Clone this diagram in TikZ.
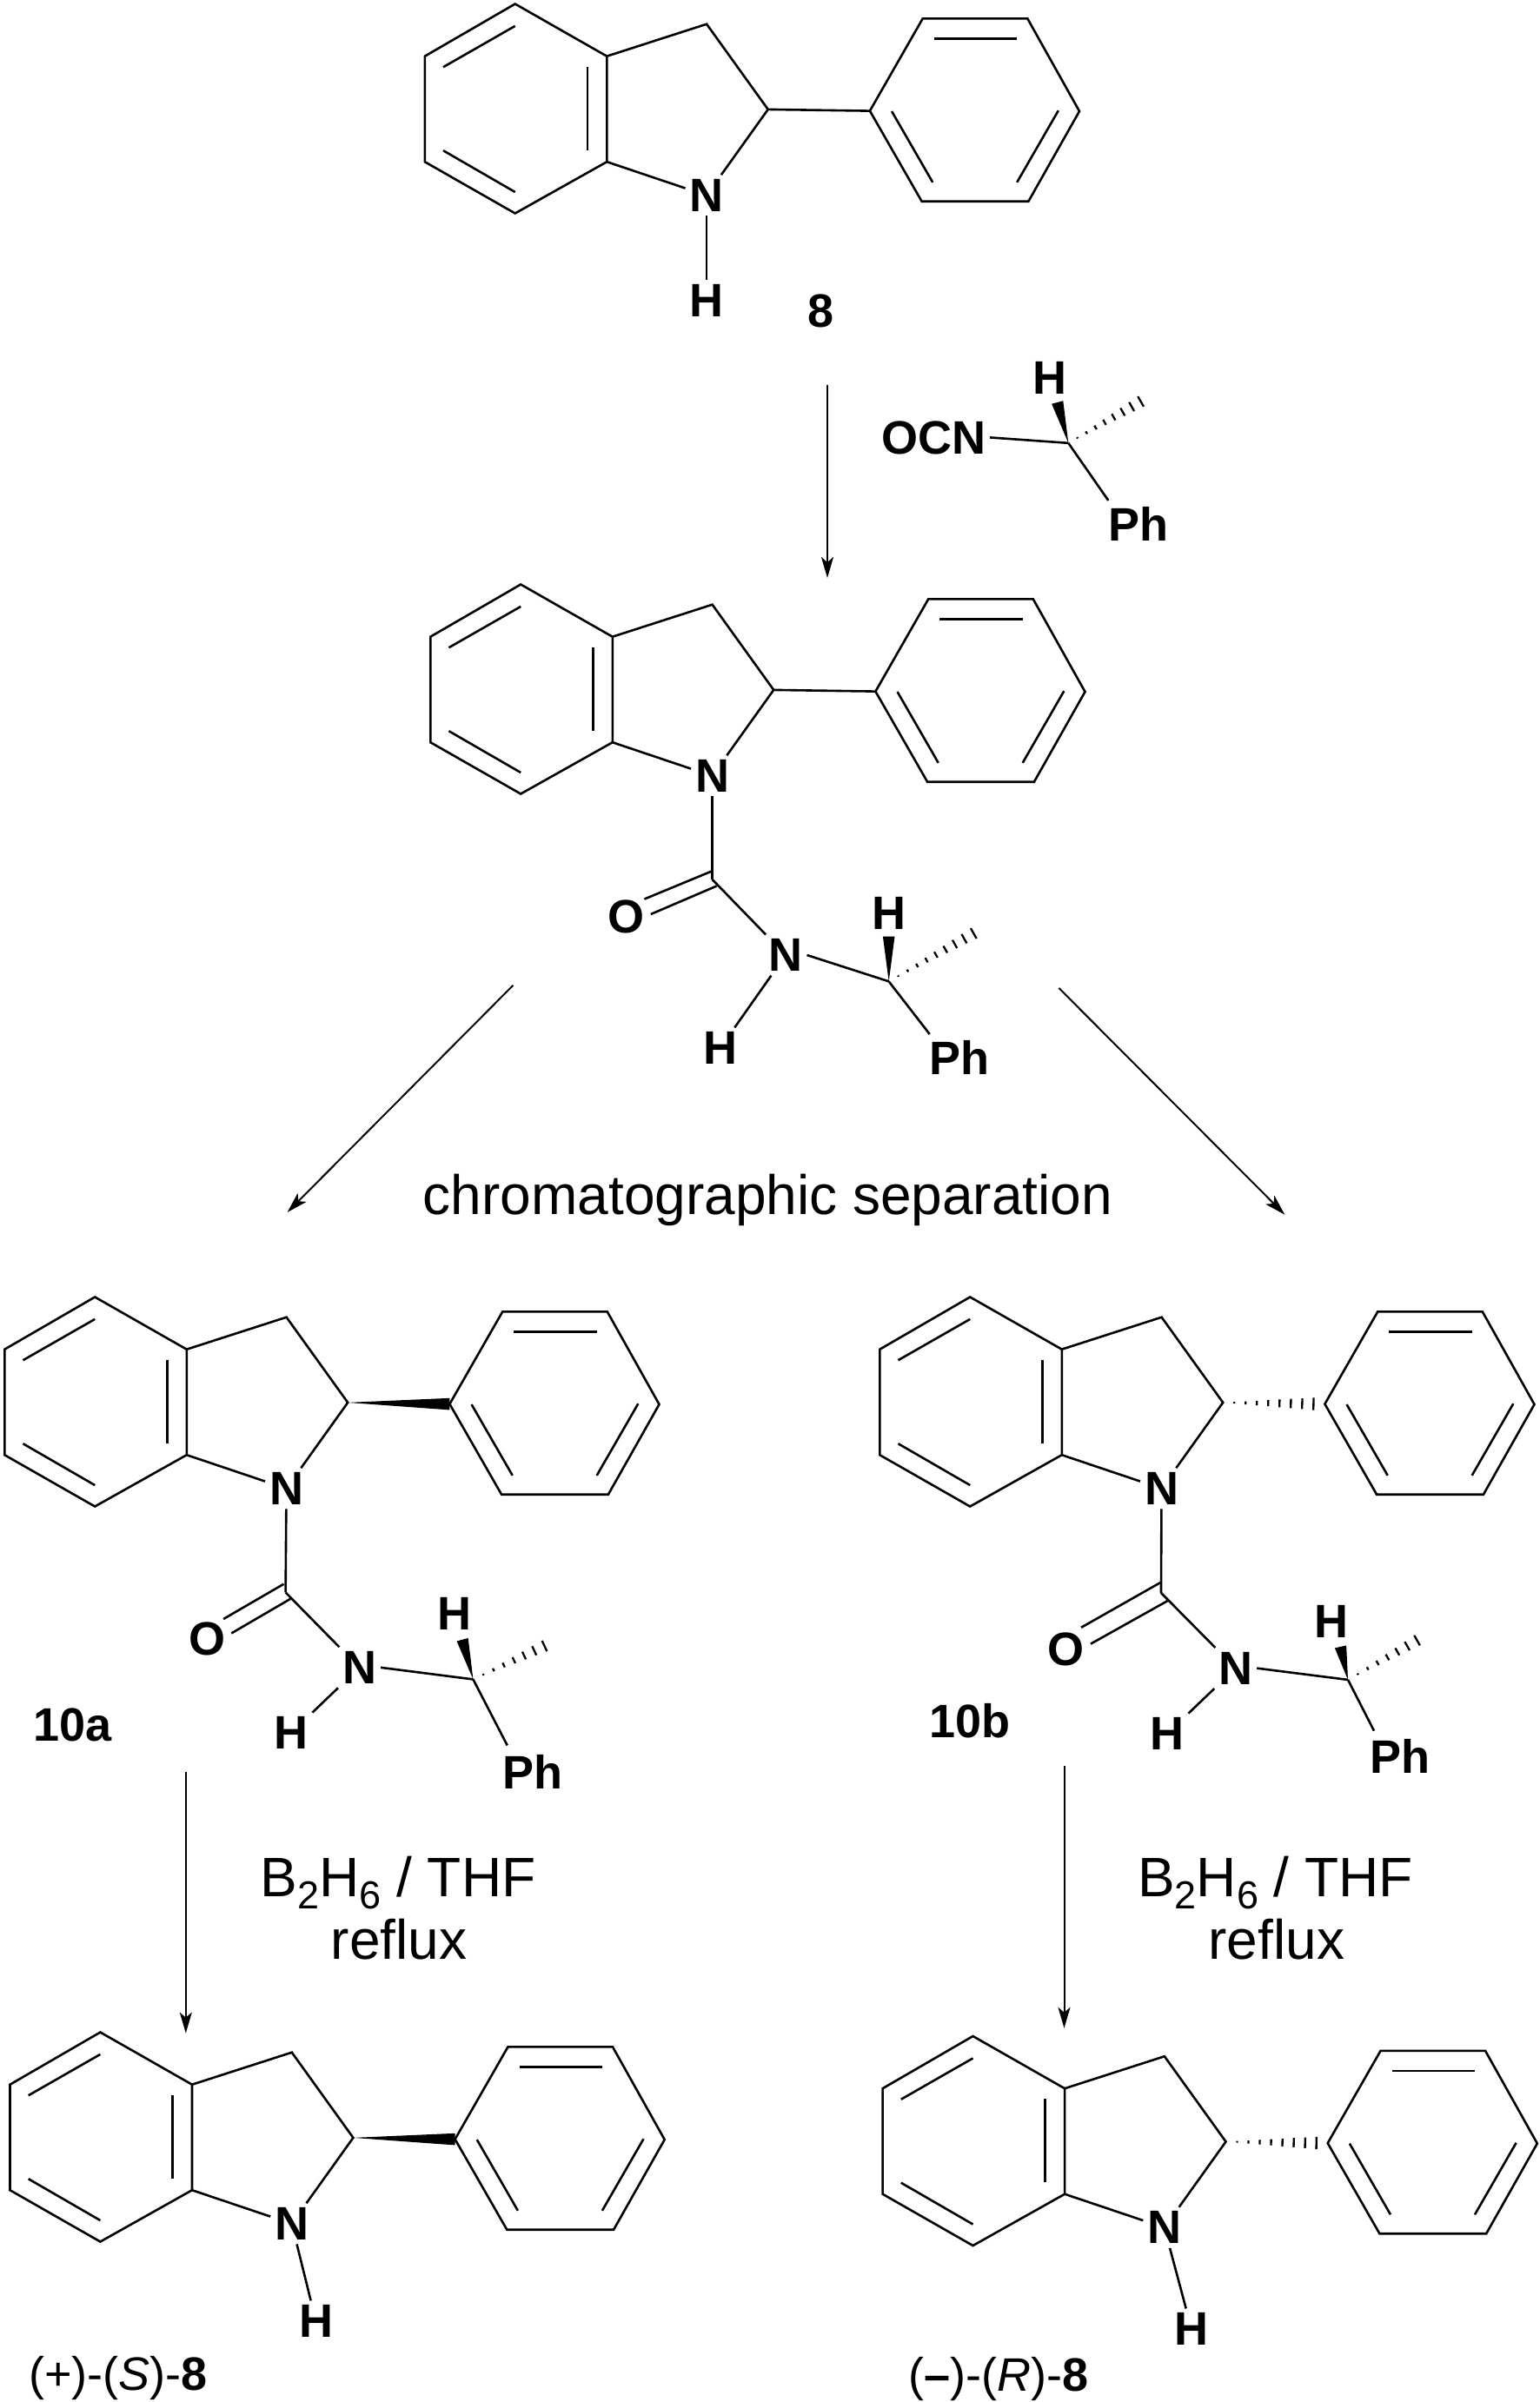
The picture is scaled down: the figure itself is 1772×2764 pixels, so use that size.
\documentclass[tikz,border=0pt]{standalone}
\usepackage{fontspec}
\setmainfont{Liberation Sans}
\usetikzlibrary{calc,arrows.meta}
\tikzset{
  bond/.style={line width=1.3pt,line join=miter,line cap=butt},
  hashline/.style={line width=1.15pt},
  rxn/.style={line width=1pt,-{Stealth[length=12pt,width=7pt,inset=3pt]}},
  lab/.style={font=\bfseries\fontsize{27}{27}\selectfont,inner sep=2.5pt,outer sep=0pt},
  txt/.style={font=\fontsize{32}{32}\selectfont,inner sep=0pt,anchor=base},
  cmpd/.style={font=\fontsize{27}{27}\selectfont,inner sep=0pt,anchor=base west},
}
\newcommand\hashbond[4]{% from, to, strips, half-width (pt) at the far end
  \foreach \ii in {1,...,#3}{
    \pgfmathsetmacro\hh{\ii/(#3+1)}
    \pgfmathsetmacro\ww{\hh*#4}
    \draw[hashline] ($(#1)!\hh!(#2)!\ww pt!90:(#2)$) -- ($(#1)!\hh!(#2)!\ww pt!-90:(#2)$);
  }}
\newcommand\wedgebond[3]{% tip, wide end, half-width
  \fill (#1) -- ($(#2)!#3!90:(#1)$) -- ($(#2)!#3!-90:(#1)$) -- cycle;}
\newcommand\plainbond[2]{\draw[bond] (#1) -- (#2);}
\newcommand\upbond[2]{\wedgebond{#1}{#2}{3.4pt}}
\newcommand\downbond[2]{\hashbond{#1}{#2}{8}{4}}
% indoline + phenyl skeleton: prefix, dx, dy, bond command for C2-Ph
\newcommand\indoline[4]{%
  \begin{scope}[shift={(#2,#3)}]
    \coordinate (#1a) at (592.7,4.5);
    \coordinate (#1b) at (488.8,64.7);
    \coordinate (#1c) at (488.8,186.2);
    \coordinate (#1d) at (592.7,245.5);
    \coordinate (#1e) at (698.3,186.2);
    \coordinate (#1f) at (698.3,64.7);
    \coordinate (#1g) at (813.1,27.7);
    \coordinate (#1h) at (883.7,125.9);
    \coordinate (#1p1) at (1000.9,127.6);
    \coordinate (#1p2) at (1061.7,21.4);
    \coordinate (#1p3) at (1182.3,21.4);
    \coordinate (#1p4) at (1242,128);
    \coordinate (#1p5) at (1183.4,231.7);
    \coordinate (#1p6) at (1060.6,231.7);
    \coordinate (#1i1) at (510,77.2);
    \coordinate (#1i2) at (592.7,29.9);
    \coordinate (#1i3) at (510,173.2);
    \coordinate (#1i4) at (592.7,221);
    \coordinate (#1i5) at (675.9,76.8);
    \coordinate (#1i6) at (675.9,172.8);
    \coordinate (#1j1) at (1074.9,44.6);
    \coordinate (#1j2) at (1170.2,44.6);
    \coordinate (#1j3) at (1026.1,128.1);
    \coordinate (#1j4) at (1073.2,209.8);
    \coordinate (#1j5) at (1217.8,127.2);
    \coordinate (#1j6) at (1170.2,209.8);
    \node[lab] (#1N) at (813,224.8) {N};
  \end{scope}
  \draw[bond] (#1a) -- (#1b) -- (#1c) -- (#1d) -- (#1e) -- (#1f) -- cycle;
  \draw[bond] (#1f) -- (#1g) -- (#1h) -- (#1N);
  \draw[bond] (#1e) -- (#1N);
  \draw[bond] (#1i1) -- (#1i2);
  \draw[bond] (#1i3) -- (#1i4);
  \draw[bond] (#1i5) -- (#1i6);
  \draw[bond] (#1p1) -- (#1p2) -- (#1p3) -- (#1p4) -- (#1p5) -- (#1p6) -- cycle;
  \draw[bond] (#1j1) -- (#1j2);
  \draw[bond] (#1j3) -- (#1j4);
  \draw[bond] (#1j5) -- (#1j6);
  #4{#1h}{#1p1}
}
% urea side chain: prefix, then named points already defined
\newcommand\sidechain[2]{% prefix, hash strips
  \draw[bond] (#1N) -- (#1co);
  \draw[bond] (#1co) -- (#1NH);
  \draw[bond] (#1d1a) -- (#1d1b);
  \draw[bond] (#1d2a) -- (#1d2b);
  \draw[bond] (#1NH) -- (#1HN);
  \draw[bond] (#1NH.east) -- (#1cc);
  \wedgebond{#1cc}{#1we}{3.4pt}
  \hashbond{#1cc}{#1he}{#2}{3.8}
  \draw[bond] (#1cc) -- (#1phb);
}
\begin{document}
\begin{tikzpicture}[x=0.5pt,y=-0.5pt]
\useasboundingbox (0,0) rectangle (1772,2764);
\fill[white] (0,0) rectangle (1772,2764);

% ---------- compound 8
\indoline{m}{0}{0}{\plainbond}
\node[lab] (mH) at (813,346) {H};
\draw[bond] (mN) -- (mH);
\node[lab] (lab8) at (945,358) {8};

% ---------- first arrow and reagent
\coordinate (a1s) at (952,443);
\coordinate (a1e) at (952,665);
\draw[rxn] (a1s) -- (a1e);
\node[lab] (rOCN) at (1074,503.4) {OCN};
\node[lab] (rH) at (1207.5,435) {H};
\node[lab] (rPh) at (1310,603) {Ph};
\coordinate (rcc) at (1229.3,509.8);
\coordinate (rwe) at (1216.7,463);
\coordinate (rhe) at (1323,456);
\coordinate (rphb) at (1275.3,575.9);
\draw[bond] (rOCN.east) -- (rcc);
\wedgebond{rcc}{rwe}{3.4pt}
\hashbond{rcc}{rhe}{8}{3.8}
\draw[bond] (rcc) -- (rphb);

% ---------- urea intermediate
\indoline{u}{6.5}{668}{\plainbond}
\coordinate (uco) at (819.5,1011.9);
\coordinate (ud1a) at (818.9,1002.5);
\coordinate (ud1b) at (741.4,1034.6);
\coordinate (ud2a) at (824.6,1019.5);
\coordinate (ud2b) at (748.8,1052);
\coordinate (ucc) at (1022.7,1129.3);
\coordinate (uwe) at (1022.7,1077.5);
\coordinate (uhe) at (1131.1,1067.9);
\coordinate (uphb) at (1069.7,1190);
\node[lab] (uO) at (720.7,1055) {O};
\node[lab] (uNH) at (904,1099) {N};
\node[lab] (uHN) at (828.7,1206) {H};
\node[lab] (uH) at (1022.7,1051) {H};
\node[lab] (uPh) at (1104,1217) {Ph};
\sidechain{u}{9}

% ---------- separation arrows
\coordinate (a2s) at (590.4,1133.8);
\coordinate (a2e) at (330.6,1395);
\coordinate (a3s) at (1218.4,1136.9);
\coordinate (a3e) at (1478.3,1397.7);
\draw[rxn] (a2s) -- (a2e);
\draw[rxn] (a3s) -- (a3e);
\node[txt] (sep) at (883.5,1397.7) {chromatographic separation};

% ---------- 10a
\indoline{p}{-483.5}{1488}{\upbond}
\coordinate (pco) at (328.6,1832.4);
\coordinate (pd1a) at (326.5,1822.7);
\coordinate (pd1b) at (257.1,1863);
\coordinate (pd2a) at (334.2,1839.8);
\coordinate (pd2b) at (266.3,1879.4);
\coordinate (pcc) at (544.4,1932.4);
\coordinate (pwe) at (532.1,1886.7);
\coordinate (phe) at (638.2,1888.5);
\coordinate (pphb) at (583.7,2008.4);
\node[lab] (pO) at (238.5,1886) {O};
\node[lab] (pNH) at (413.5,1918.8) {N};
\node[lab] (pHN) at (335,1994) {H};
\node[lab] (pH) at (523,1857) {H};
\node[lab] (pPh) at (613,2038.6) {Ph};
\sidechain{p}{7}
\node[lab] (lab10a) at (83.7,1984.7) {10a};

% ---------- 10b
\indoline{q}{523.5}{1488}{\downbond}
\coordinate (qco) at (1336,1832.9);
\coordinate (qd1a) at (1336,1820.6);
\coordinate (qd1b) at (1244,1872.8);
\coordinate (qd2a) at (1344,1841.8);
\coordinate (qd2b) at (1255,1891.6);
\coordinate (qcc) at (1551,1932.9);
\coordinate (qwe) at (1542.5,1894.9);
\coordinate (qhe) at (1641.9,1881.1);
\coordinate (qphb) at (1581,1991.6);
\node[lab] (qO) at (1226.7,1897.6) {O};
\node[lab] (qNH) at (1421.7,1919.6) {N};
\node[lab] (qHN) at (1343,1995) {H};
\node[lab] (qH) at (1532,1866) {H};
\node[lab] (qPh) at (1610.5,2021) {Ph};
\sidechain{q}{7}
\node[lab] (lab10b) at (1116,1980) {10b};

% ---------- reduction arrows
\coordinate (a4s) at (213.8,2038.6);
\coordinate (a4e) at (213.8,2339.6);
\coordinate (a5s) at (1224.5,2032.4);
\coordinate (a5e) at (1224.5,2333.8);
\draw[rxn] (a4s) -- (a4e);
\draw[rxn] (a5s) -- (a5e);
\node[txt] (t1) at (458,2182.3) {B\raisebox{-7.2pt}{\fontsize{22.5}{23}\selectfont 2}H\raisebox{-7.2pt}{\fontsize{22.5}{23}\selectfont 6} / THF};
\node[txt] (t2) at (459.2,2254) {reflux};
\node[txt] (t3) at (1467.5,2182.3) {B\raisebox{-7.2pt}{\fontsize{22.5}{23}\selectfont 2}H\raisebox{-7.2pt}{\fontsize{22.5}{23}\selectfont 6} / THF};
\node[txt] (t4) at (1468.9,2254) {reflux};

% ---------- products
\indoline{s}{-477.3}{2334}{\upbond}
\node[lab] (sH) at (363.5,2670.9) {H};
\draw[bond] (sN) -- (sH);
\node[cmpd] (labS) at (33,2750) {(+)-(\textit{S})-\textbf{8}};

\indoline{r}{526.8}{2338.5}{\downbond}
\node[lab] (rrH) at (1371,2680) {H};
\draw[bond] (rN) -- (rrH);
\node[cmpd] (labR) at (1045,2751) {(\textbf{–})-(\textit{R})-\textbf{8}};
\end{tikzpicture}
\end{document}
